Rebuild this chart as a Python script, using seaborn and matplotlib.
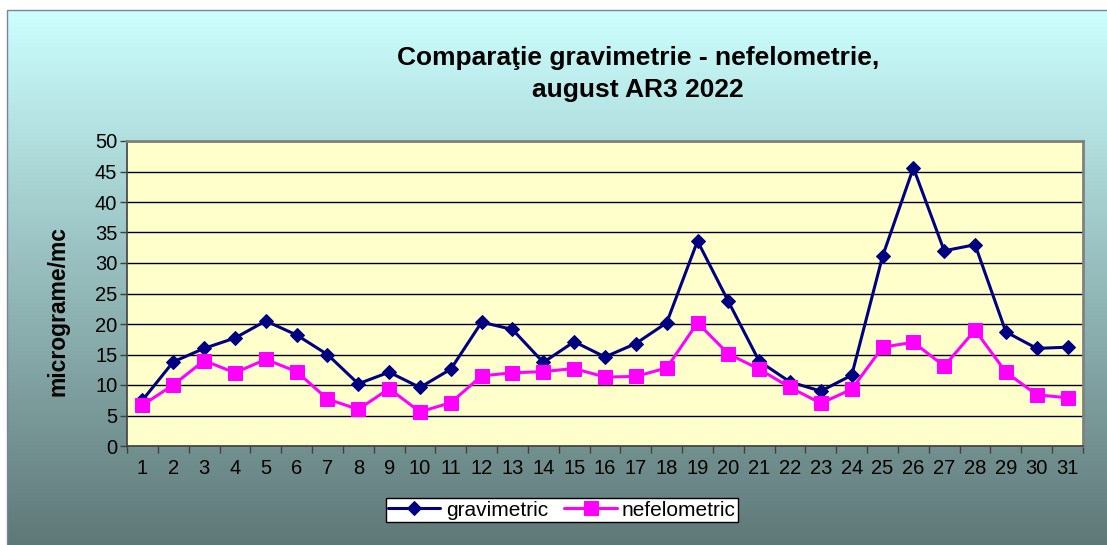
import numpy as np
import pandas as pd
import seaborn as sns
import matplotlib.pyplot as plt
from matplotlib.patches import Rectangle

# Date: zilele lunii august si concentratiile (micrograme/mc)
zile = list(range(1, 32))
gravimetric = [7.5, 13.8, 16.0, 17.7, 20.5, 18.2, 15.0, 10.2, 12.1, 9.6,
               12.6, 20.3, 19.1, 13.7, 17.1, 14.6, 16.8, 20.2, 33.6, 23.7,
               13.9, 10.5, 9.0, 11.6, 31.1, 45.6, 32.0, 33.0, 18.7, 16.0, 16.2]
nefelometric = [6.7, 10.0, 14.0, 12.0, 14.2, 12.2, 7.7, 6.0, 9.4, 5.6,
                7.1, 11.5, 12.0, 12.2, 12.7, 11.3, 11.4, 12.8, 20.2, 15.1,
                12.6, 9.6, 7.0, 9.3, 16.2, 17.0, 13.1, 19.0, 12.1, 8.4, 7.9]

df = pd.DataFrame({"zi": zile, "gravimetric": gravimetric, "nefelometric": nefelometric})

sns.set_style("white")
plt.rcParams['font.family'] = ['Liberation Sans', 'DejaVu Sans']
plt.rcParams['text.color'] = 'black'
plt.rcParams['xtick.color'] = 'black'
plt.rcParams['ytick.color'] = 'black'

W, H = 1107, 545
fig = plt.figure(figsize=(W / 100, H / 100), dpi=100)

# fundal cu gradient (ca in Excel)
bg = fig.add_axes([0, 0, 1, 1], zorder=-10)
bg.set_xlim(0, W)
bg.set_ylim(H, 0)
bg.axis('off')
top = np.array([204, 255, 255]) / 255
bot = np.array([95, 120, 120]) / 255
t = np.linspace(0, 1, 256)[:, None]
grad = (top[None, :] * (1 - t) + bot[None, :] * t)[:, None, :]
bg.imshow(grad, extent=(7, W, H, 10), aspect='auto')
bg.add_patch(Rectangle((7, 10), W, H, fill=False, edgecolor='#8080a0', lw=1))

# zona graficului
ax = fig.add_axes([127 / W, 99 / H, (1083 - 127) / W, (446 - 141) / H])
ax.set_facecolor('#ffffcc')

sns.lineplot(data=df, x="zi", y="gravimetric", ax=ax, color='#000080', lw=2.2,
             marker='D', markersize=7, markeredgecolor='#000080', label='gravimetric')
sns.lineplot(data=df, x="zi", y="nefelometric", ax=ax, color='#ff00ff', lw=2.2,
             marker='s', markersize=10, markeredgecolor='#ff00ff', label='nefelometric')

ax.set_xlim(0.5, 31.5)
ax.set_ylim(0, 50)
ax.set_yticks(range(0, 51, 5))
ax.set_xticks(zile)
ax.set_xticks(np.arange(0.5, 32, 1), minor=True)
ax.yaxis.grid(True, color='black', lw=1)
ax.set_axisbelow(True)

ax.tick_params(axis='y', left=True, direction='out', length=5, width=1, color='#404040',
               labelsize=14.5, pad=2)
ax.tick_params(axis='x', which='major', bottom=False, length=0, labelsize=14.5, pad=9)
ax.tick_params(axis='x', which='minor', bottom=True, direction='out', length=5,
               width=1, color='#404040')

for s in ['left', 'bottom']:
    ax.spines[s].set_color('#404040')
    ax.spines[s].set_linewidth(1.2)
for s in ['top', 'right']:
    ax.spines[s].set_color('#808080')
    ax.spines[s].set_linewidth(2)

ax.set_xlabel("")
ax.set_ylabel("")
fig.text(58 / W, 1 - 311 / H, "micrograme/mc", rotation=90, ha='center', va='center',
         fontsize=16.5, fontweight='bold')

# titlu
fig.text(638 / W, 1 - 64.5 / H, "Comparaţie gravimetrie - nefelometrie,", ha='center',
         va='baseline', fontsize=19, fontweight='bold')
fig.text(638 / W, 1 - 96.5 / H, "august AR3 2022", ha='center', va='baseline',
         fontsize=19, fontweight='bold')

# legenda
ax.legend(loc='center', bbox_to_anchor=(562 / W, 1 - 510 / H), bbox_transform=fig.transFigure,
          ncol=2, frameon=True, fancybox=False, framealpha=1, facecolor='white',
          edgecolor='black', fontsize=15, handlelength=2.5, columnspacing=0.8,
          borderpad=0.1, handletextpad=0.25, borderaxespad=0)

fig.savefig("out.png", dpi=100)
